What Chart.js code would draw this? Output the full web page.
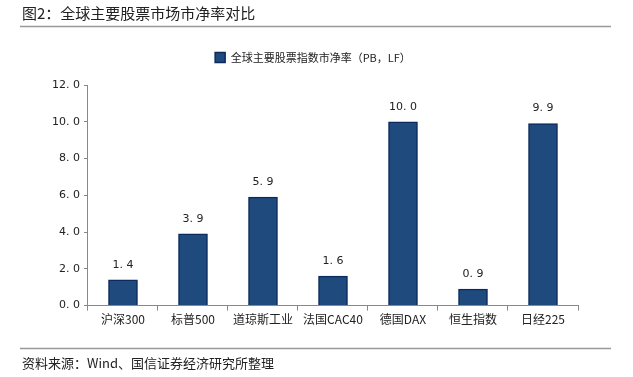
<!DOCTYPE html>
<html>
<head>
<meta charset="utf-8">
<script src="https://cdn.jsdelivr.net/npm/chart.js@4.4.1/dist/chart.umd.min.js"></script>
<style>
  html, body { margin: 0; padding: 0; background: #fff; }
  #wrap { position: relative; width: 633px; height: 377px; }
</style>
</head>
<body>
<div id="wrap"><canvas id="pb_canvas" width="633" height="377"></canvas></div>
<script>
var categories = ['沪深300', '标普500', '道琼斯工业', '法国CAC40', '德国DAX', '恒生指数', '日经225'];
var pbValues = [1.4, 3.9, 5.9, 1.6, 10.0, 0.9, 9.9];
var yTicks = [0, 2, 4, 6, 8, 10, 12];
var seriesName = '全球主要股票指数市净率（PB，LF）';
var chartTitle = '图2：全球主要股票市场市净率对比';
var sourceText = '资料来源：Wind、国信证券经济研究所整理';

var cjk = '"Noto Sans CJK SC", "Noto Sans", sans-serif';

function fmt(v) {
    return Number(v).toFixed(1).replace('.', '. ');
}

// title, rules and footer text around the chart
var framePlugin = {
    id: 'frame',
    afterDraw: function(chart) {
        var ctx = chart.ctx;
        ctx.save();
        ctx.fillStyle = '#222';
        ctx.font = '15px ' + cjk;
        ctx.textBaseline = 'middle';
        ctx.textAlign = 'left';
        ctx.fillText(chartTitle, 22, 13);
        ctx.strokeStyle = '#999';
        ctx.lineWidth = 1.5;
        ctx.beginPath();
        ctx.moveTo(20, 26.5); ctx.lineTo(611, 26.5);
        ctx.stroke();
        ctx.beginPath();
        ctx.moveTo(20, 348.5); ctx.lineTo(611, 348.5);
        ctx.stroke();
        ctx.font = '13px ' + cjk;
        ctx.fillText(sourceText, 22, 363);
        ctx.restore();
    }
};

// value labels above bars
var labelPlugin = {
    id: 'barLabels',
    afterDatasetsDraw: function(chart) {
        var ctx = chart.ctx;
        var meta = chart.getDatasetMeta(0);
        ctx.save();
        ctx.fillStyle = '#222';
        ctx.font = '11px "DejaVu Sans", sans-serif';
        ctx.textAlign = 'center';
        ctx.textBaseline = 'middle';
        meta.data.forEach(function(bar, i) {
            ctx.fillText(fmt(pbValues[i]), bar.x, bar.y - 15);
        });
        ctx.restore();
    }
};

var chartdata = {
    labels: categories,
    datasets: [{
        label: seriesName,
        data: pbValues,
        backgroundColor: '#1f4a7e',
        borderColor: '#0c2b5c',
        borderWidth: 1.5,
        barThickness: 29
    }]
};

var options = {
    responsive: false,
    animation: false,
    layout: { padding: { top: 29, left: 48, right: 55, bottom: 48 } },
    plugins: {
        legend: {
            display: true,
            position: 'top',
            labels: {
                boxWidth: 10,
                boxHeight: 10,
                padding: 23,
                color: '#222',
                font: { size: 11, family: cjk }
            }
        },
        // empty spacer between legend and plot area
        title: {
            display: true,
            text: '',
            weight: 500,
            font: { size: 1, lineHeight: 1 },
            padding: { top: 0, bottom: 11 }
        },
        tooltip: { enabled: false }
    },
    scales: {
        x: {
            grid: {
                display: true,
                drawOnChartArea: false,
                offset: true,
                tickLength: 5,
                color: '#888'
            },
            border: { color: '#888', width: 1 },
            ticks: {
                color: '#222',
                padding: 2,
                maxRotation: 0,
                font: { size: 12, family: cjk }
            }
        },
        y: {
            min: 0,
            max: 12,
            afterBuildTicks: function(scale) {
                scale.ticks = yTicks.map(function(v) { return { value: v }; });
            },
            grid: {
                display: true,
                drawOnChartArea: false,
                tickLength: 4,
                color: '#888'
            },
            border: { color: '#888', width: 1 },
            ticks: {
                color: '#222',
                padding: 4,
                font: { size: 11, family: '"DejaVu Sans", sans-serif' },
                callback: function(v) { return fmt(v); }
            }
        }
    }
};

var ctx1 = document.getElementById('pb_canvas');
var chart = new Chart(ctx1, {
    type: 'bar',
    data: chartdata,
    options: options,
    plugins: [framePlugin, labelPlugin]
});
</script>
</body>
</html>
